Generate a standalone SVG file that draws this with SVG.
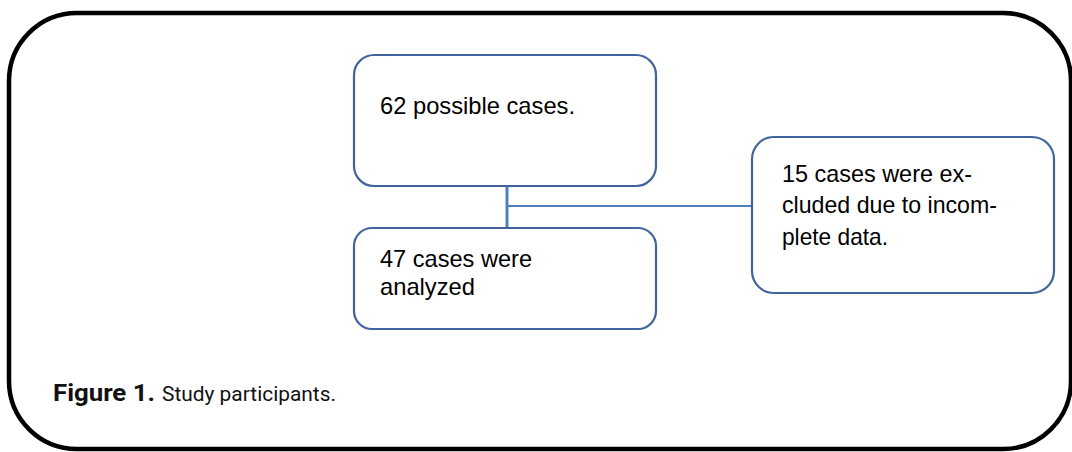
<svg xmlns="http://www.w3.org/2000/svg" width="1072" height="452" viewBox="0 0 1072 452">
<style>
.frame{fill:none;stroke:#000;stroke-width:4.5}
.box{fill:#fff;stroke:#41659a;stroke-width:2.2}
.lbl{font-family:"Liberation Sans",Arial,sans-serif;font-size:24px;fill:#000}
.conn{fill:none;stroke:#4f7fc0;stroke-width:1.8}
.cap{font-family:Roboto,"Liberation Sans",sans-serif;fill:#111}
</style>
<rect class="frame" x="9" y="13" width="1062" height="436" rx="68" ry="68"/>
<g id="connectors">
<line class="conn" x1="507" y1="186" x2="507" y2="228" style="stroke-width:3"/>
<line class="conn" x1="507" y1="206" x2="752" y2="206"/>
</g>
<g id="n1">
<rect class="box" x="354" y="55" width="302" height="131" rx="20"/>
<text class="lbl" x="380" y="114" textLength="195" lengthAdjust="spacingAndGlyphs">62 possible cases.</text>
</g>
<g id="n2">
<rect class="box" x="354" y="228" width="302" height="101" rx="18"/>
<text class="lbl" x="380" y="267" textLength="152" lengthAdjust="spacingAndGlyphs">47 cases were</text>
<text class="lbl" x="380" y="295" textLength="95" lengthAdjust="spacingAndGlyphs">analyzed</text>
</g>
<g id="n3">
<rect class="box" x="752" y="137" width="302" height="156" rx="22"/>
<text class="lbl" x="782" y="182" textLength="190" lengthAdjust="spacingAndGlyphs">15 cases were ex-</text>
<text class="lbl" x="782" y="213" textLength="215" lengthAdjust="spacingAndGlyphs">cluded due to incom-</text>
<text class="lbl" x="782" y="245" textLength="106" lengthAdjust="spacingAndGlyphs">plete data.</text>
</g>
<text class="cap" y="401"><tspan x="53" font-weight="bold" font-size="24" textLength="102" lengthAdjust="spacingAndGlyphs">Figure 1.</tspan><tspan x="162" font-size="20" textLength="174" lengthAdjust="spacingAndGlyphs">Study participants.</tspan></text>
</svg>
